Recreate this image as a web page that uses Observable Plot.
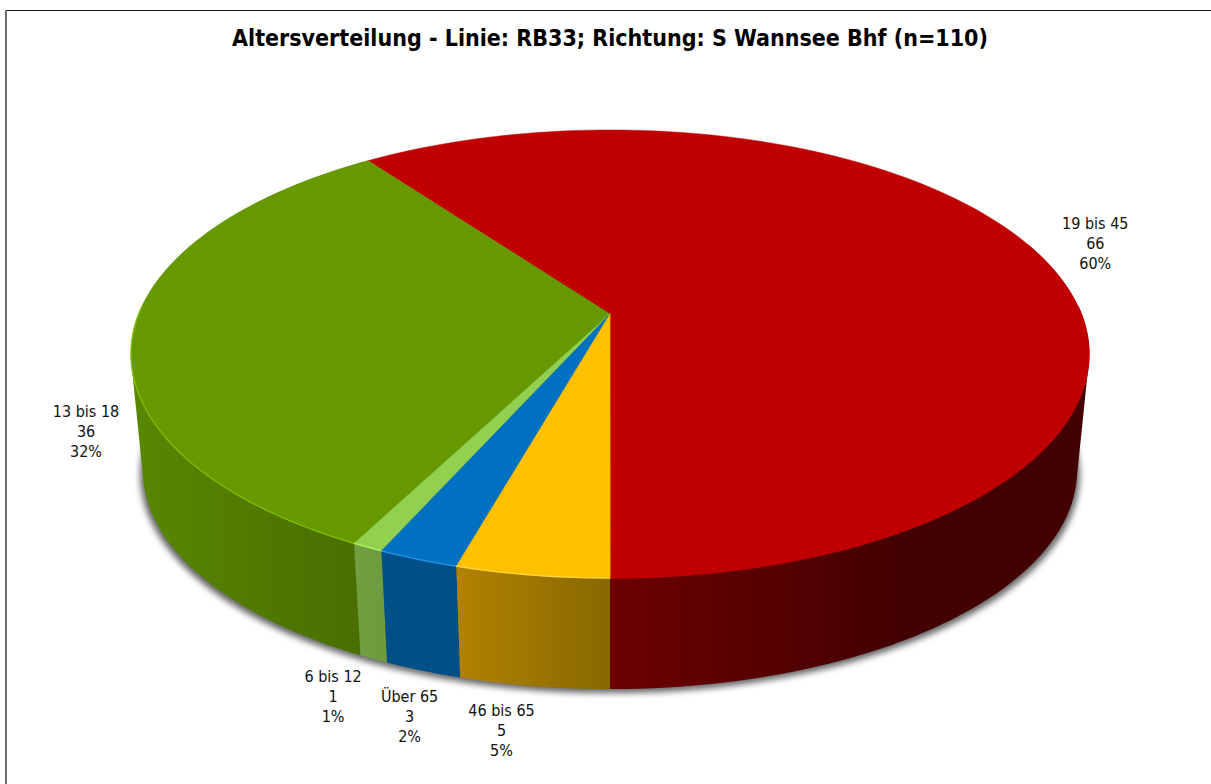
<!DOCTYPE html>
<html lang="de">
<head>
<meta charset="utf-8">
<script src="https://cdn.jsdelivr.net/npm/d3@7"></script>
<script src="https://cdn.jsdelivr.net/npm/@observablehq/plot@0.6"></script>
<style>
html,body{margin:0;padding:0;background:#fff;overflow:hidden}
svg{display:block}
</style>
</head>
<body>
<div id="chart"></div>
<script>
// Data
const categories = ["19 bis 45", "13 bis 18", "6 bis 12", "Über 65", "46 bis 65"];
const counts = [66, 36, 1, 3, 5];
const percents = ["60%", "32%", "1%", "2%", "5%"];
// angular share of each slice, measured on the drawn pie (percent)
const shares = [60, 32.45, 0.9, 2.3, 4.35];
const title = "Altersverteilung - Linie: RB33; Richtung: S Wannsee Bhf (n=110)";

// Styles
const topColors = ["#c00000", "#669900", "#92d050", "#0070c0", "#ffc000"];
const wallFrom = ["#6c0000", "#588700", "#70a040", "#005088", "#b28200"];
const wallTo = ["#420000", "#496d00", "#6c9a3e", "#004f85", "#886800"];
const rimColors = ["#c00000", "#80bf00", "#b4f060", "#2a96e8", "#ffd640"];

// Perspective of the pie (pixel frame of the 1211×784 picture)
const view = {cx: 609.5, cy: 313.5, a: 471.3, b: 216.9, k: 0.1786, shrink: 0.975, vanish: 5020};
const labelNudge = [[60.5, -7.5], [-47.5, 99.5], [-34.5, 148.5], [-8.5, 156.5], [-30.5, 154.5]];

const rad = Math.PI / 180;
function topPoint(t) {
  const u = Math.sin(t * rad), v = Math.cos(t * rad), w = 1 - view.k * v;
  return [view.cx + view.a * u / w, view.cy + view.b * v / w];
}
function basePoint(t) {
  const [x, y] = topPoint(t), s = view.shrink;
  return [view.cx + (x - view.cx) * s, view.vanish - s * (view.vanish - y)];
}
function arc(a0, a1) {
  const n = Math.max(2, Math.ceil((a1 - a0) / 1.5));
  return d3.range(n + 1).map(i => a0 + (a1 - a0) * i / n);
}

let acc = 0;
const slices = categories.map((name, i) => {
  const start = acc;
  acc += shares[i] * 3.6;
  return {name, i, start, end: acc, mid: (start + acc) / 2};
});

const toRows = (pts, name) => pts.map(([x, y]) => ({x, y, name}));

const topRows = slices.flatMap(s =>
  toRows([[view.cx, view.cy], ...arc(s.start, s.end).map(t => topPoint(t))], s.name));

const wallMarks = slices.map(s => {
  const a1 = s.start < 90 ? Math.min(s.end, 110) : s.end;
  const ts = arc(s.start, a1);
  const hull = d3.polygonHull([...ts.map(t => topPoint(t)), ...ts.map(t => basePoint(t))]);
  return Plot.line(toRows(hull, s.name), {
    x: "x", y: "y", fill: `url(#wall${s.i})`, stroke: "none", curve: "linear-closed"
  });
});

const rimMarks = slices.map(s => {
  const a0 = s.start, a1 = s.start < 90 ? Math.min(s.end, 92) : s.end;
  const from = s.i === 1 ? Math.max(a0, 268) : a0;
  return Plot.line(toRows(arc(from, a1).map(t => topPoint(t)), s.name), {
    x: "x", y: "y", stroke: rimColors[s.i], strokeWidth: 1.3, curve: "linear"
  });
});

const shadowRows = toRows(arc(0, 360).map(t => {
  const [x, y] = basePoint(t);
  return [view.cx + (x - view.cx) * 1.006, y + 4];
}), "shadow");

const labels = slices.map((s, i) => {
  const [x, y] = topPoint(s.mid);
  return {
    x: x + labelNudge[i][0],
    y: y + labelNudge[i][1],
    text: `${s.name}\n${counts[i]}\n${percents[i]}`
  };
});

const gradients = () => {
  const defs = d3.create("svg:defs");
  slices.forEach(s => {
    const g = defs.append("linearGradient").attr("id", `wall${s.i}`)
      .attr("x1", 0).attr("x2", 1).attr("y1", 0).attr("y2", 0);
    g.append("stop").attr("offset", 0).attr("stop-color", wallFrom[s.i]);
    g.append("stop").attr("offset", s.i === 0 ? 0.62 : 1).attr("stop-color", wallTo[s.i]);
    g.append("stop").attr("offset", 1).attr("stop-color", wallTo[s.i]);
  });
  return defs.node();
};

const font = "'DejaVu Sans Condensed','DejaVu Sans',Tahoma,sans-serif";

const chart = Plot.plot({
  width: 1211,
  height: 784,
  margin: 0,
  x: {domain: [0, 1211], range: [0, 1211], axis: null},
  y: {domain: [0, 784], range: [0, 784], axis: null},
  color: {domain: categories, range: topColors},
  style: {background: "#fff", overflow: "hidden"},
  marks: [
    gradients,
    Plot.ruleY([10], {x1: 5, x2: 1211, stroke: "#111", strokeWidth: 1.2}),
    Plot.ruleX([5.5], {y1: 10, y2: 784, stroke: "#6e6e6e", strokeWidth: 2}),
    Plot.line(shadowRows, {
      x: "x", y: "y", fill: "#404040", fillOpacity: 0.8, stroke: "none",
      curve: "linear-closed", imageFilter: "blur(3px)"
    }),
    ...wallMarks,
    Plot.line(topRows, {
      x: "x", y: "y", z: "name", fill: "name", stroke: "name",
      strokeWidth: 0.5, curve: "linear-closed"
    }),
    ...rimMarks,
    Plot.text([title], {
      x: () => 609.5, y: () => 38, text: d => d, fontSize: 23, fontWeight: 700,
      fontFamily: font, fill: "#000"
    }),
    Plot.text(labels, {
      x: "x", y: "y", text: "text", fontSize: 16, lineHeight: 1.25,
      fontFamily: font, fill: "#111", textAnchor: "middle"
    })
  ]
});
document.getElementById("chart").append(chart);
</script>
</body>
</html>
